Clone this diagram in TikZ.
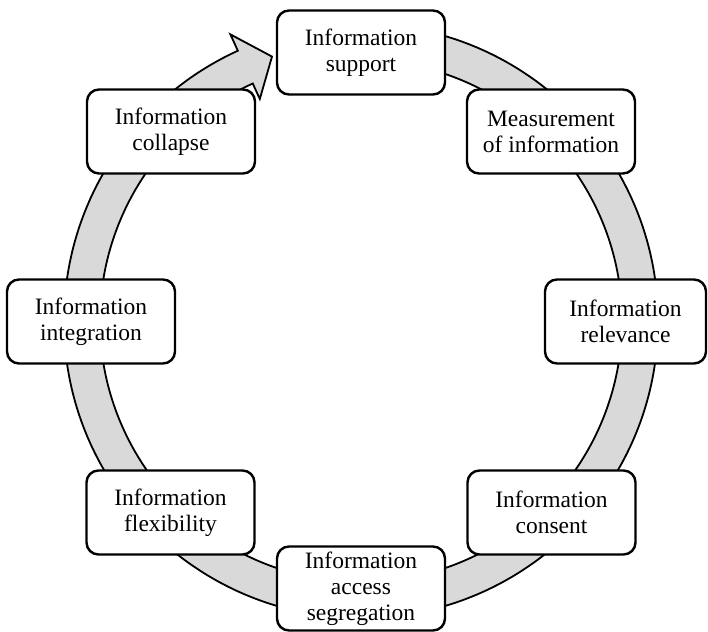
\documentclass[tikz,border=0pt]{standalone}
\usepackage{fontspec}
\setmainfont{Liberation Serif}
\definecolor{ringgray}{HTML}{D9D9D9}
\begin{document}
\begin{tikzpicture}[x=1pt,y=1pt,
  infobox/.style={draw=black, line width=2.4pt, fill=white, rounded corners=12pt,
    minimum width=168pt, minimum height=84pt, inner sep=0pt, align=center,
    font=\fontsize{23.5}{26}\selectfont},
  ringband/.style={fill=ringgray, draw=black, line width=1.8pt, line join=miter}]
\useasboundingbox (-361,-310) rectangle (347,321);
% circular arrow band
\path[ringband] (90:297) arc[start angle=90, end angle=-245.5, radius=297]
  -- (-245.5:315) -- (-251.4:279) -- (-245.5:244) -- (-245.5:261)
  arc[start angle=-245.5, end angle=90, radius=261] -- cycle;
% boxes
\node[infobox] (support) at (0,268.5) {Information\\support};
\node[infobox] (measure) at (190,189.5) {Measurement\\of information};
\node[infobox, minimum width=161pt] (relev) at (264.5,-0.5) {Information\\relevance};
\node[infobox] (consent) at (190.5,-191.5) {Information\\consent};
\node[infobox] (access) at (0,-267.5) {Information\\access\\segregation};
\node[infobox] (flex) at (-190.5,-191.5) {Information\\flexibility};
\node[infobox] (integ) at (-270,-0.5) {Information\\integration};
\node[infobox] (collapse) at (-190,189.5) {Information\\collapse};
\end{tikzpicture}
\end{document}
